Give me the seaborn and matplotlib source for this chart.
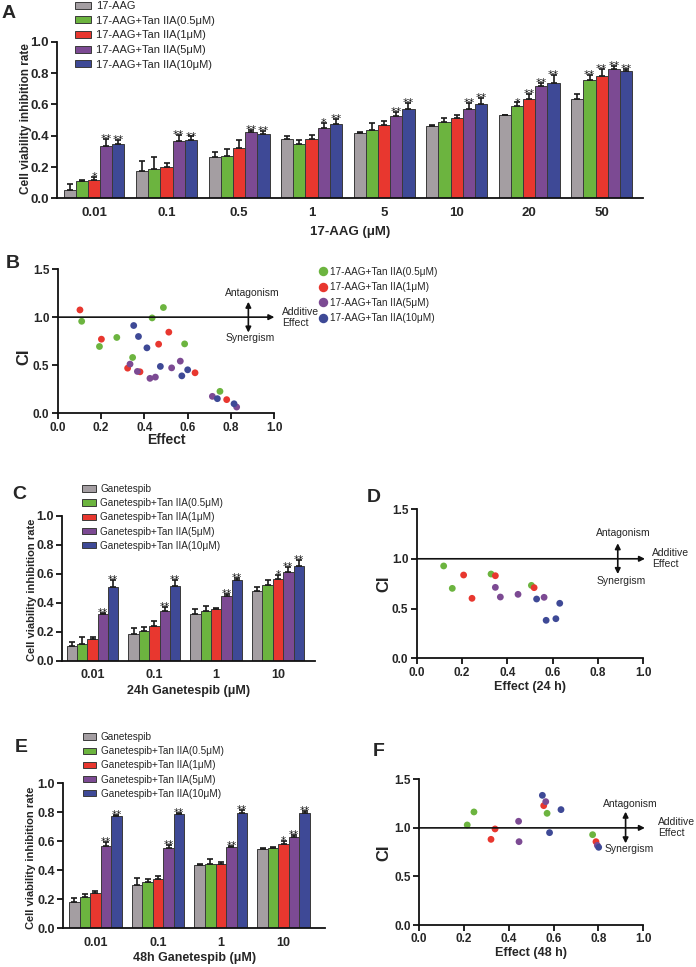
import numpy as np
import pandas as pd
import matplotlib
matplotlib.use('Agg')
import matplotlib.pyplot as plt
import seaborn as sns

# ---------------- data ----------------
bar_colors = ['#a49ea2', '#6cb43f', '#e8372f', '#7c4a93', '#3e4996']
dot_colors = bar_colors[1:]

# A: 17-AAG alone / with Tan IIA
a_doses = ['0.01', '0.1', '0.5', '1', '5', '10', '20', '50']
a_groups = ['17-AAG', '17-AAG+Tan IIA(0.5μM)', '17-AAG+Tan IIA(1μM)',
            '17-AAG+Tan IIA(5μM)', '17-AAG+Tan IIA(10μM)']
a_mean = [
    [0.053, 0.174, 0.262, 0.377, 0.419, 0.462, 0.530, 0.634],
    [0.110, 0.187, 0.270, 0.345, 0.434, 0.485, 0.587, 0.753],
    [0.120, 0.198, 0.321, 0.377, 0.466, 0.513, 0.634, 0.783],
    [0.336, 0.364, 0.423, 0.447, 0.526, 0.570, 0.715, 0.828],
    [0.347, 0.370, 0.413, 0.472, 0.572, 0.600, 0.738, 0.815],
]
a_sd = [
    [0.040, 0.062, 0.034, 0.020, 0.005, 0.006, 0.004, 0.034],
    [0.006, 0.080, 0.045, 0.025, 0.045, 0.028, 0.025, 0.036],
    [0.018, 0.030, 0.050, 0.030, 0.028, 0.020, 0.030, 0.040],
    [0.040, 0.042, 0.015, 0.036, 0.025, 0.038, 0.020, 0.015],
    [0.025, 0.025, 0.020, 0.037, 0.038, 0.038, 0.050, 0.008],
]
a_sig = [
    ['', '', '', '', '', '', '', ''],
    ['', '', '', '', '', '', '*', '**'],
    ['*', '', '', '', '', '', '**', '**'],
    ['**', '**', '**', '*', '**', '**', '**', '**'],
    ['**', '**', '**', '**', '**', '**', '**', '**'],
]

# B: CI vs effect (17-AAG)
b_effect = [
    [0.111, 0.193, 0.273, 0.346, 0.436, 0.488, 0.586, 0.749],
    [0.103, 0.202, 0.323, 0.380, 0.466, 0.513, 0.634, 0.780],
    [0.334, 0.368, 0.426, 0.451, 0.526, 0.566, 0.714, 0.826],
    [0.351, 0.373, 0.412, 0.474, 0.573, 0.600, 0.737, 0.814],
]
b_ci = [
    [0.957, 0.695, 0.789, 0.581, 0.992, 1.100, 0.722, 0.229],
    [1.075, 0.771, 0.470, 0.432, 0.719, 0.844, 0.422, 0.143],
    [0.512, 0.436, 0.364, 0.377, 0.473, 0.543, 0.177, 0.066],
    [0.913, 0.799, 0.681, 0.488, 0.390, 0.453, 0.153, 0.100],
]

# C / E: Ganetespib 24 h and 48 h
g_doses = ['0.01', '0.1', '1', '10']
g_groups = ['Ganetespib', 'Ganetespib+Tan IIA(0.5μM)', 'Ganetespib+Tan IIA(1μM)',
            'Ganetespib+Tan IIA(5μM)', 'Ganetespib+Tan IIA(10μM)']
c_mean = [
    [0.102, 0.182, 0.320, 0.481],
    [0.114, 0.203, 0.343, 0.522],
    [0.151, 0.239, 0.356, 0.566],
    [0.322, 0.343, 0.444, 0.609],
    [0.506, 0.515, 0.559, 0.653],
]
c_sd = [
    [0.030, 0.040, 0.034, 0.030],
    [0.046, 0.027, 0.034, 0.037],
    [0.014, 0.037, 0.005, 0.025],
    [0.009, 0.025, 0.014, 0.035],
    [0.048, 0.040, 0.010, 0.040],
]
e_mean = [
    [0.179, 0.297, 0.437, 0.549],
    [0.214, 0.317, 0.444, 0.552],
    [0.241, 0.338, 0.444, 0.582],
    [0.570, 0.552, 0.563, 0.632],
    [0.775, 0.789, 0.798, 0.798],
]
e_sd = [
    [0.032, 0.052, 0.007, 0.005],
    [0.020, 0.023, 0.032, 0.011],
    [0.016, 0.020, 0.016, 0.020],
    [0.023, 0.023, 0.005, 0.009],
    [0.007, 0.005, 0.018, 0.013],
]
g_sig = [
    ['', '', '', ''],
    ['', '', '', ''],
    ['', '', '', '*'],
    ['**', '**', '**', '**'],
    ['**', '**', '**', '**'],
]

# D / F: CI vs effect (Ganetespib)
d_effect = [
    [0.119, 0.157, 0.328, 0.506],
    [0.207, 0.244, 0.347, 0.518],
    [0.347, 0.369, 0.447, 0.562],
    [0.529, 0.571, 0.614, 0.631],
]
d_ci = [
    [0.928, 0.703, 0.847, 0.733],
    [0.837, 0.603, 0.830, 0.710],
    [0.713, 0.616, 0.643, 0.613],
    [0.596, 0.382, 0.398, 0.553],
]
f_effect = [
    [0.215, 0.245, 0.571, 0.774],
    [0.321, 0.339, 0.556, 0.789],
    [0.444, 0.446, 0.565, 0.795],
    [0.550, 0.582, 0.633, 0.801],
]
f_ci = [
    [1.030, 1.164, 1.150, 0.930],
    [0.882, 0.989, 1.229, 0.858],
    [1.068, 0.858, 1.270, 0.820],
    [1.335, 0.951, 1.188, 0.800],
]

# ---------------- style ----------------
sns.set_theme(style='ticks')
plt.rcParams['font.family'] = ['Liberation Sans', 'DejaVu Sans']
plt.rcParams['axes.linewidth'] = 1.3
plt.rcParams['axes.edgecolor'] = '#111111'

fig = plt.figure(figsize=(6.96, 9.67), dpi=100)


def style_axes(ax, tick_size):
    sns.despine(ax=ax)
    ax.tick_params(axis='both', direction='out', length=4, width=1.3,
                   labelsize=tick_size, color='#111111', pad=2)
    plt.setp(ax.get_xticklabels() + ax.get_yticklabels(), fontweight='bold')


def bar_panel(ax, doses, groups, means, sds, sigs, xlabel, xlim,
              tick_size, label_size, ylab_size, leg_pos, leg_size, hlen,
              star_size):
    rows = []
    for g, m_list in zip(groups, means):
        for d, m in zip(doses, m_list):
            rows.append({'dose': d, 'group': g, 'value': m})
    df = pd.DataFrame(rows)
    sns.barplot(data=df, x='dose', y='value', hue='group', hue_order=groups,
                order=doses, palette=bar_colors, saturation=1, width=0.84,
                edgecolor='#3a3a3a', linewidth=0.7, errorbar=None, ax=ax)
    for cont, sd_list, sig_list in zip(ax.containers, sds, sigs):
        xs = [b.get_x() + b.get_width() / 2 for b in cont]
        ys = [b.get_height() for b in cont]
        ax.errorbar(xs, ys, yerr=[np.zeros(len(ys)), sd_list], fmt='none',
                    ecolor='#1a1a1a', elinewidth=1.2, capsize=2.5, capthick=1.2)
        for x, y, s, st in zip(xs, ys, sd_list, sig_list):
            if st:
                ax.annotate(st, (x, y + s), xytext=(0, -2.2),
                            textcoords='offset points', ha='center',
                            va='baseline', fontsize=star_size,
                            family='DejaVu Sans', color='#1a1a1a')
    ax.set_ylim(0, 1.0)
    ax.set_yticks(np.arange(0, 1.01, 0.2))
    ax.set_xlim(*xlim)
    ax.set_xlabel(xlabel, fontsize=label_size, fontweight='bold')
    ax.set_ylabel('Cell viability inhibition rate', fontsize=ylab_size,
                  fontweight='bold')
    style_axes(ax, tick_size)
    ax.tick_params(axis='x', length=0, pad=6)
    handles, labels = ax.get_legend_handles_labels()
    ax.legend(handles, labels, loc='upper left', bbox_to_anchor=leg_pos,
              bbox_transform=fig.transFigure, frameon=False, fontsize=leg_size,
              borderpad=0, borderaxespad=0, handlelength=hlen, handleheight=0.6,
              handletextpad=0.45, labelspacing=0.42)


def ci_panel(ax, effects, cis, xlabel, tick_size, lab_size, arrow_x, arr_lo,
             arr_hi, ant_xy, syn_xy, add_x, line_end):
    rows = []
    for g, ex, cv in zip(g_groups[1:], effects, cis):
        for x, y in zip(ex, cv):
            rows.append({'effect': x, 'ci': y, 'group': g})
    df = pd.DataFrame(rows)
    sns.scatterplot(data=df, x='effect', y='ci', hue='group',
                    hue_order=g_groups[1:], palette=dot_colors, s=24,
                    linewidth=0, ax=ax, legend=False, zorder=3)
    ax.set_xlim(0, 1.0)
    ax.set_ylim(0, 1.5)
    ax.set_xticks(np.arange(0, 1.01, 0.2))
    ax.set_yticks([0, 0.5, 1.0, 1.5])
    ax.set_xlabel(xlabel, fontsize=lab_size, fontweight='bold')
    ax.set_ylabel('CI', fontsize=12, fontweight='bold')
    arrow = dict(arrowstyle='-|>', color='#111111', lw=1.2,
                 mutation_scale=8, shrinkA=0, shrinkB=0)
    ax.annotate('', xy=(line_end, 1.0), xytext=(0, 1.0), arrowprops=arrow,
                annotation_clip=False)
    ax.annotate('', xy=(arrow_x, arr_hi), xytext=(arrow_x, arr_lo),
                arrowprops=dict(arrow, arrowstyle='<|-|>'),
                annotation_clip=False)
    ax.text(ant_xy[0], ant_xy[1], 'Antagonism', ha='center', va='center',
            fontsize=7.5)
    ax.text(syn_xy[0], syn_xy[1], 'Synergism', ha='center', va='center',
            fontsize=7.5)
    ax.text(add_x, 1.0, 'Additive\nEffect', ha='left', va='center',
            fontsize=7.5, linespacing=1.15, clip_on=False)
    style_axes(ax, tick_size)


# ---------------- panel A ----------------
ax_a = fig.add_axes([0.0819, 0.7949, 0.842, 0.162])
bar_panel(ax_a, a_doses, a_groups, a_mean, a_sd, a_sig, '17-AAG (μM)',
          (-0.51, 7.57), 9.5, 9.5, 8.5, (0.108, 0.999), 8, 1.4, 8)
ax_a.xaxis.set_label_coords(0.5, -0.215)
ax_a.xaxis.label.set_va('center')
ax_a.yaxis.set_label_coords(-0.053, 0.51)
ax_a.yaxis.label.set_va('center')

# ---------------- panel B ----------------
ax_b = fig.add_axes([0.0828, 0.5725, 0.3114, 0.1493])
ci_panel(ax_b, b_effect, b_ci, 'Effect', 8.5, 10, 0.88, 0.84, 1.16,
         (0.9, 1.25), (0.89, 0.78), 1.035, 1.0)
ax_b.xaxis.set_label_coords(0.5, -0.184)
ax_b.xaxis.label.set_va('center')
ax_b.yaxis.set_label_coords(-0.155, 0.39)
ax_b.yaxis.label.set_va('center')
b_handles = [plt.Line2D([], [], marker='o', linestyle='', markersize=6.8,
                        markeredgewidth=0, color=c) for c in dot_colors]
ax_b.legend(b_handles, a_groups[1:], loc='upper left',
            bbox_to_anchor=(0.457, 0.724), bbox_transform=fig.transFigure,
            frameon=False, fontsize=7.2, borderpad=0, borderaxespad=0,
            handlelength=0.9, handletextpad=0.25, labelspacing=0.55)

# ---------------- panel C ----------------
ax_c = fig.add_axes([0.0891, 0.3168, 0.3635, 0.15])
bar_panel(ax_c, g_doses, g_groups, c_mean, c_sd, g_sig, '24h Ganetespib (μM)',
          (-0.494, 3.6), 9, 9, 8, (0.118, 0.4995), 7.2, 1.35, 7.5)
ax_c.xaxis.set_label_coords(0.5, -0.207)
ax_c.xaxis.label.set_va('center')
ax_c.yaxis.set_label_coords(-0.119, 0.49)
ax_c.yaxis.label.set_va('center')

# ---------------- panel D ----------------
ax_d = fig.add_axes([0.5987, 0.3192, 0.3257, 0.1544])
ci_panel(ax_d, d_effect, d_ci, 'Effect (24 h)', 8.5, 9, 0.887, 0.847, 1.156,
         (0.91, 1.256), (0.9, 0.78), 1.037, 1.007)
ax_d.xaxis.set_label_coords(0.5, -0.19)
ax_d.xaxis.label.set_va('center')
ax_d.yaxis.set_label_coords(-0.144, 0.5)
ax_d.yaxis.label.set_va('center')

# ---------------- panel E ----------------
ax_e = fig.add_axes([0.091, 0.04, 0.376, 0.15])
bar_panel(ax_e, g_doses, g_groups, e_mean, e_sd, g_sig, '48h Ganetespib (μM)',
          (-0.51, 3.66), 9, 9, 8, (0.119, 0.243), 7.2, 1.35, 7.5)
ax_e.xaxis.set_label_coords(0.5, -0.205)
ax_e.xaxis.label.set_va('center')
ax_e.yaxis.set_label_coords(-0.123, 0.485)
ax_e.yaxis.label.set_va('center')

# ---------------- panel F ----------------
ax_f = fig.add_axes([0.602, 0.0434, 0.3223, 0.1507])
ci_panel(ax_f, f_effect, f_ci, 'Effect (48 h)', 8.5, 9, 0.921, 0.841, 1.167,
         (0.94, 1.246), (0.935, 0.779), 1.067, 1.007)
ax_f.xaxis.set_label_coords(0.5, -0.19)
ax_f.xaxis.label.set_va('center')
ax_f.yaxis.set_label_coords(-0.156, 0.496)
ax_f.yaxis.label.set_va('center')

# panel letters
for letter, x, y in [('A', 0.012, 0.986), ('B', 0.019, 0.728),
                     ('C', 0.027, 0.4886), ('D', 0.537, 0.4855),
                     ('E', 0.030, 0.227), ('F', 0.544, 0.2226)]:
    fig.text(x, y, letter, ha='center', va='center', fontsize=14,
             fontweight='bold')

fig.savefig('out.png', dpi=100)
